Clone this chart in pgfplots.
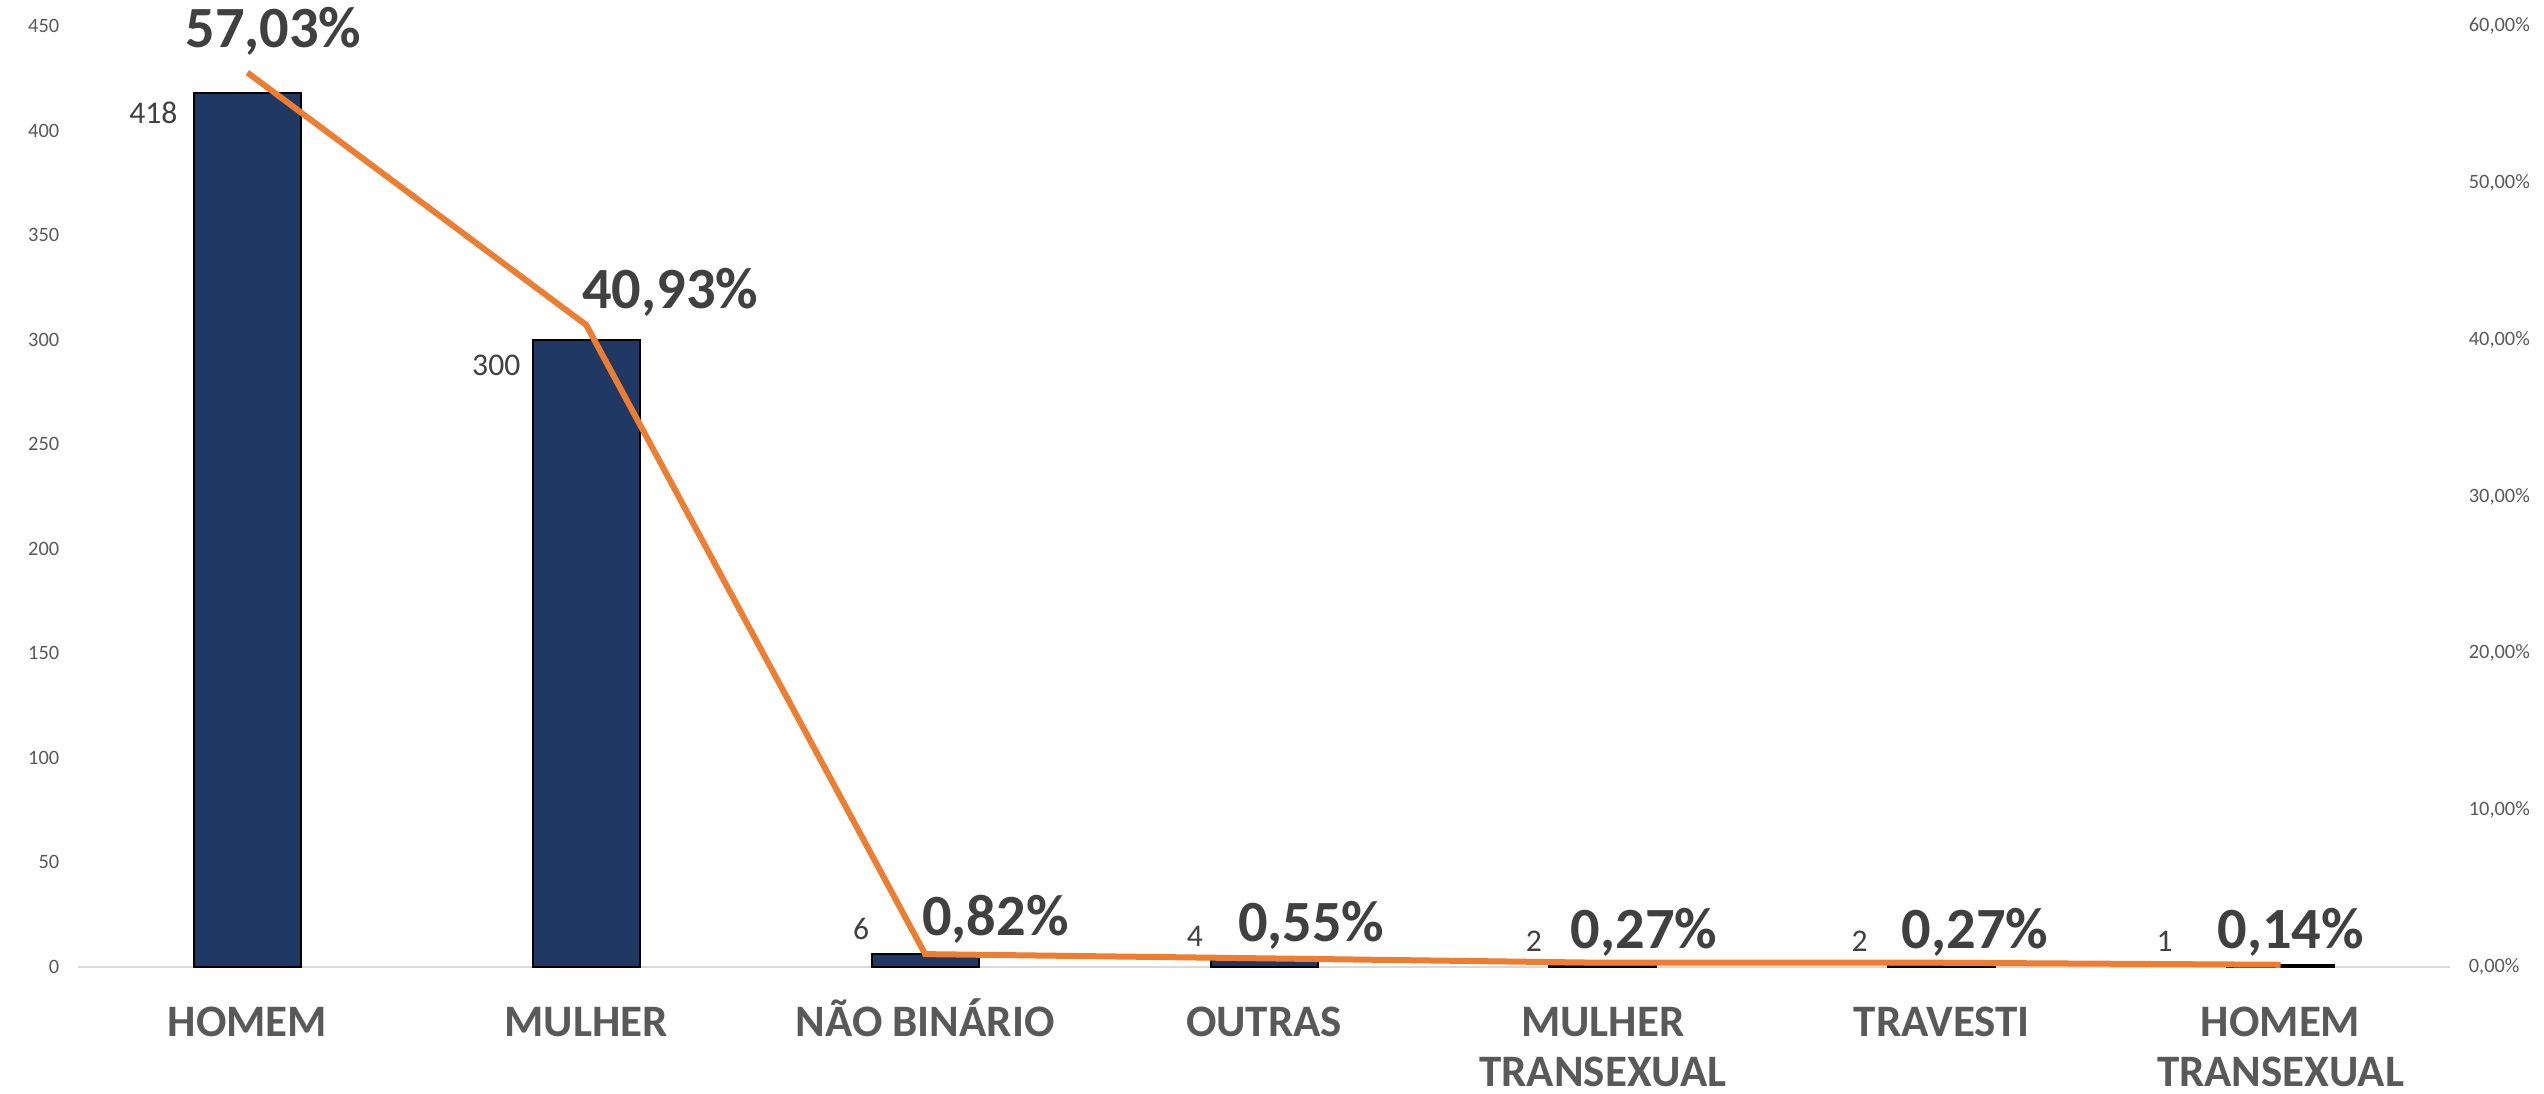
\documentclass[border=0pt]{standalone}
\usepackage{pgfplots}
\pgfplotsset{compat=1.18}
\usepackage{pgfplotstable}
\usepackage{fontspec}
\setmainfont{Carlito}

\definecolor{barblue}{RGB}{32,56,100}
\definecolor{lineorange}{RGB}{237,125,49}
\definecolor{tickgray}{RGB}{89,89,89}
\definecolor{labelgray}{RGB}{64,64,64}
\definecolor{axisgray}{RGB}{217,217,217}

% two-line category name, baseline on the first line
\newcommand{\twoline}[2]{\begin{tabular}[t]{@{}c@{}}#1\\#2\end{tabular}}

% n = count, pct = share; bx/by and px/py shift the two kinds of labels
\pgfplotstableread{
x n pct bx by px py
0 418 57.03 -17.25 -5.0 -16.25 6.25
1 300 40.93 -16.25 -6.5 -1.75 4.25
2 6 0.82 -13.75 6.25 -1.5 4.75
3 4 0.55 -15.0 5.5 -7.25 4.25
4 2 0.27 -15.0 5.5 -8.75 3.5
5 2 0.27 -18.25 5.5 -10.75 3.5
6 1 0.14 -26.75 6.0 -16.5 4.0
}\data

\pgfplotsset{
    base/.style={
        scale only axis,
        width=593pt, height=235.25pt,
        xmin=-0.5, xmax=6.5,
        clip=false,
        major tick length=0pt,
        tick style={draw=none},
        /pgf/number format/assume math mode=true,
    },
}

\begin{document}
\begin{tikzpicture}
\begin{axis}[
    base,
    name=bars,
    ybar,
    ymin=0, ymax=450,
    ytick={0,50,...,450},
    axis y line*=left,
    axis x line*=bottom,
    y axis line style={draw=none},
    x axis line style={draw=axisgray, line width=0.5pt, -},
    xtick={0,...,6},
    xticklabels={HOMEM,MULHER,NÃO BINÁRIO,OUTRAS,\twoline{MULHER}{TRANSEXUAL},TRAVESTI,\twoline{HOMEM}{TRANSEXUAL}},
    xticklabel style={font=\fontsize{11.25}{12.5}\selectfont\bfseries, text=tickgray,
        anchor=base, inner sep=0pt, yshift=-17.5pt},
    yticklabel style={font=\fontsize{5.1}{6}\selectfont, text=tickgray,
        anchor=east, inner sep=0pt, xshift=-4.5pt},
]
\addplot[fill=barblue, draw=black, line width=0.5pt,
    bar width=26.75pt, bar shift=0pt,
    point meta=y,
    nodes near coords={\pgfmathprintnumber{\pgfplotspointmeta}},
    visualization depends on={\thisrow{bx} \as \bx},
    visualization depends on={\thisrow{by} \as \by},
    every node near coord/.append style={anchor=east, inner sep=0pt,
        xshift={\bx*1pt}, yshift={\by*1pt},
        font=\fontsize{7.9}{9}\selectfont, text=labelgray},
] table[x=x, y=n] {\data};
\end{axis}

\begin{axis}[
    base,
    ymin=0, ymax=60,
    ytick={0,10,...,60},
    axis y line*=right,
    axis x line=none,
    y axis line style={draw=none},
    yticklabel={\pgfmathprintnumber[fixed, fixed zerofill, precision=2, use comma]{\tick}\%},
    yticklabel style={font=\fontsize{5.1}{6}\selectfont, text=tickgray,
        anchor=west, inner sep=0pt, xshift=4.5pt},
]
\addplot[lineorange, line width=1.5pt, mark=none,
    point meta=y,
    nodes near coords={\pgfmathprintnumber[fixed, fixed zerofill, precision=2, use comma]{\pgfplotspointmeta}\%},
    visualization depends on={\thisrow{px} \as \px},
    visualization depends on={\thisrow{py} \as \py},
    every node near coord/.append style={anchor=base west, inner sep=0pt,
        xshift={\px*1pt}, yshift={\py*1pt},
        font=\fontsize{14.6}{18}\selectfont\bfseries, text=labelgray},
] table[x=x, y=pct] {\data};
\end{axis}

\pgfresetboundingbox
\path[use as bounding box] ([xshift=-19.5pt, yshift=-31.75pt]bars.south west)
    rectangle ([xshift=23.5pt, yshift=6.5pt]bars.north east);
\end{tikzpicture}
\end{document}
